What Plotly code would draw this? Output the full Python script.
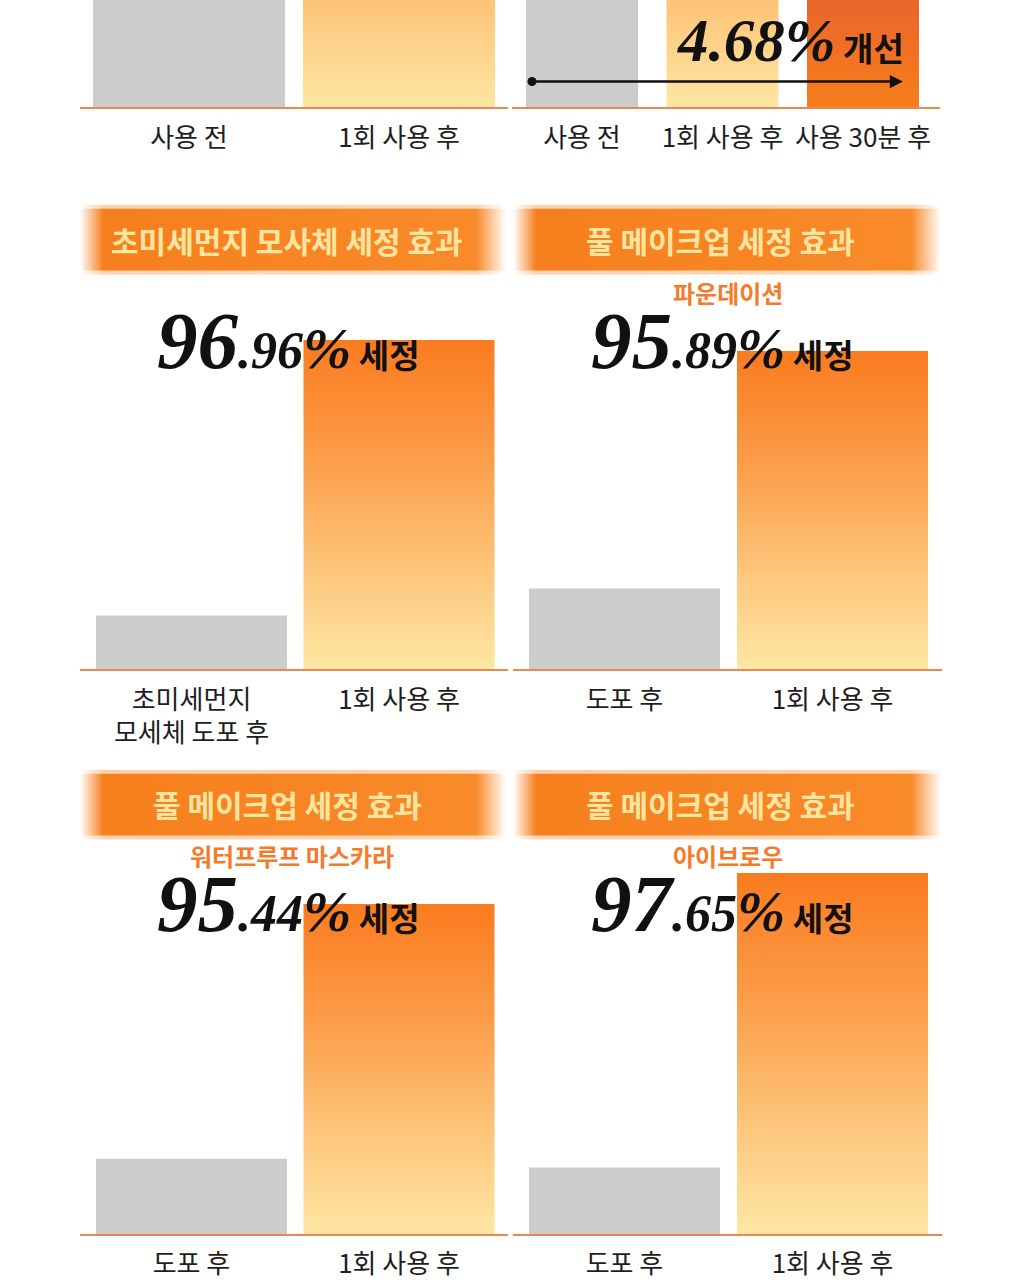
import plotly.graph_objects as go

W, H = 1020, 1280

# ---------------- data ----------------
before_after_labels = ["사용 전", "1회 사용 후"]
before_after_values = [78, 83]            # bars run past the top edge of the crop
improve_labels = ["사용 전", "1회 사용 후", "사용 30분 후"]
improve_values = [78, 83, 88]
improve_pct = "4.68%"
improve_word = "개선"

dust_labels = ["초미세먼지<br>모세체 도포 후", "1회 사용 후"]
dust_values = [13.5, 82.8]
dust_pct = ("96", ".96")

foundation_labels = ["도포 후", "1회 사용 후"]
foundation_values = [20.3, 80.0]
foundation_pct = ("95", ".89")

mascara_labels = ["도포 후", "1회 사용 후"]
mascara_values = [19.0, 83.0]
mascara_pct = ("95", ".44")

brow_labels = ["도포 후", "1회 사용 후"]
brow_values = [16.8, 90.8]
brow_pct = ("97", ".65")

banner_titles = ["초미세먼지 모사체 세정 효과", "풀 메이크업 세정 효과",
                 "풀 메이크업 세정 효과", "풀 메이크업 세정 효과"]
sub_titles = ["파운데이션", "워터프루프 마스카라", "아이브로우"]
clean_word = "세정"

# ---------------- styles ----------------
KR = "Noto Sans CJK KR"
GRAY = "#cccccc"
AXIS_LINE = "#e8894f"
GRAD = {
    "light": [[0, "#fee7a4"], [0.3, "#fdc67b"], [0.65, "#fc9c48"], [1, "#fa7b1f"]],
    "dark": [[0, "#f77e1c"], [0.33, "#ea632c"], [1, "#e35a2e"]],
}
PX_PER_UNIT = 4

panels = [
    dict(labels=before_after_labels, values=before_after_values, styles=["gray", "light"],
         left=80, right=508, base=108, top=0, centers=(189, 399), bw=192),
    dict(labels=improve_labels, values=improve_values, styles=["gray", "light", "dark"],
         left=512, right=940, base=108, top=0, centers=(582, 722.5), bw=112),
    dict(labels=dust_labels, values=dust_values, styles=["gray", "light"],
         left=80, right=508, base=673, top=273, centers=(191.5, 399), bw=191),
    dict(labels=foundation_labels, values=foundation_values, styles=["gray", "light"],
         left=513, right=942, base=673, top=273, centers=(624.5, 832.5), bw=191),
    dict(labels=mascara_labels, values=mascara_values, styles=["gray", "light"],
         left=80, right=508, base=1241, top=841, centers=(191.5, 399), bw=191),
    dict(labels=brow_labels, values=brow_values, styles=["gray", "light"],
         left=513, right=942, base=1241, top=841, centers=(624.5, 832.5), bw=191),
]

fig = go.Figure()
layout_axes = {}

for k, p in enumerate(panels):
    n = "" if k == 0 else str(k + 1)
    xa, ya = "x" + n, "y" + n
    c0, c1 = p["centers"]
    sp = c1 - c0
    w = p["bw"] / sp
    for i, (v, s) in enumerate(zip(p["values"], p["styles"])):
        if s == "gray":
            fig.add_trace(go.Bar(x=[i], y=[v], width=w, xaxis=xa, yaxis=ya,
                                 marker=dict(color=GRAY, line=dict(width=0)),
                                 hoverinfo="skip", showlegend=False))
        else:
            fig.add_trace(go.Scatter(
                x=[i - w / 2, i - w / 2, i + w / 2, i + w / 2, i - w / 2],
                y=[0, v, v, 0, 0], fill="toself", mode="lines",
                line=dict(width=0, color="rgba(0,0,0,0)"),
                fillgradient=dict(type="vertical", colorscale=GRAD[s]),
                xaxis=xa, yaxis=ya, hoverinfo="skip", showlegend=False))
    layout_axes["xaxis" + n] = dict(
        domain=[p["left"] / W, p["right"] / W],
        range=[(p["left"] - c0) / sp, (p["right"] - c0) / sp],
        tickmode="array", tickvals=list(range(len(p["labels"]))), ticktext=p["labels"],
        showline=True, linecolor=AXIS_LINE, linewidth=2, showgrid=False, zeroline=False,
        ticks="", ticklabelstandoff=6, tickfont=dict(family=KR, size=26, color="#1e1e1e"),
        anchor=ya, fixedrange=True)
    layout_axes["yaxis" + n] = dict(
        domain=[1 - p["base"] / H, 1 - p["top"] / H],
        range=[0, (p["base"] - p["top"]) / PX_PER_UNIT],
        visible=False, anchor=xa, fixedrange=True)

# decoration layer in pixel space
layout_axes["xaxis7"] = dict(domain=[0, 1], range=[0, W], visible=False, anchor="y7", fixedrange=True)
layout_axes["yaxis7"] = dict(domain=[0, 1], range=[H, 0], visible=False, anchor="x7", fixedrange=True)

BANNER_SCALE = [[0, "#ffffff"], [0.055, "#f67f1d"], [0.93, "#f98a2a"], [1, "#ffffff"]]


def banner(x0, x1, y0, y1):
    for pad, op in ((4, 0.35), (0, 1.0)):
        fig.add_trace(go.Scatter(
            x=[x0, x0, x1, x1, x0], y=[y0 - pad, y1 + pad, y1 + pad, y0 - pad, y0 - pad],
            fill="toself", mode="lines", line=dict(width=0, color="rgba(0,0,0,0)"),
            fillgradient=dict(type="horizontal", colorscale=BANNER_SCALE),
            opacity=op, xaxis="x7", yaxis="y7", hoverinfo="skip", showlegend=False))


banner_boxes = [(80, 506, 210, 272), (513, 941, 210, 272), (80, 506, 778, 840), (513, 941, 778, 840)]
for b in banner_boxes:
    banner(*b)

annotations = []
banner_centers = [(287, 241), (720, 241), (287, 808), (720, 808)]
for t, (cx, cy) in zip(banner_titles, banner_centers):
    annotations.append(dict(x=cx, y=cy, xref="x7", yref="y7", text="<b>" + t + "</b>",
                            showarrow=False, font=dict(family=KR, size=30, color="#fde5a0")))

sub_centers = [(728, 294), (292, 860), (728, 860)]
for t, (cx, cy) in zip(sub_titles, sub_centers):
    annotations.append(dict(x=cx, y=cy, xref="x7", yref="y7", text="<b>" + t + "</b>",
                            showarrow=False, font=dict(family=KR, size=24, color="#f47b2b")))


def big_text(parts, word):
    a, b = parts
    return ("<i><b><span style=\"font-size:81px\">" + a + "</span>"
            "<span style=\"font-size:52px\">" + b + "</span>"
            "<span style=\"font-size:58px\">%</span></b></i>"
            "<span style=\"font-family:'Noto Sans CJK KR';font-size:33px\"><b> " + word + "</b></span>")


big_items = [(dust_pct, 288, 373), (foundation_pct, 722, 373), (mascara_pct, 288, 939), (brow_pct, 722, 939)]
for parts, cx, by in big_items:
    annotations.append(dict(x=cx, y=by + 17, xref="x7", yref="y7", yanchor="bottom",
                            text=big_text(parts, clean_word), showarrow=False,
                            font=dict(family="Liberation Serif", size=52, color="#111111")))

annotations.append(dict(
    x=790, y=63 + 13, xref="x7", yref="y7", yanchor="bottom", showarrow=False,
    text=("<i><b><span style=\"font-size:61px\">" + improve_pct + "</span></b></i>"
          "<span style=\"font-family:'Noto Sans CJK KR';font-size:33px\"><b> " + improve_word + "</b></span>"),
    font=dict(family="Liberation Serif", size=52, color="#111111")))

# arrow across the improvement panel
c0, c1 = panels[1]["centers"]
sp = c1 - c0
arrow_y = (108 - 82) / PX_PER_UNIT
annotations.append(dict(x=(903 - c0) / sp, y=arrow_y, ax=(532 - c0) / sp, ay=arrow_y,
                        xref="x2", yref="y2", axref="x2", ayref="y2", text="",
                        showarrow=True, arrowhead=2, arrowsize=1.1, arrowwidth=2.4,
                        arrowcolor="#111111", standoff=0, startstandoff=0))
fig.add_trace(go.Scatter(x=[(532 - c0) / sp], y=[arrow_y], mode="markers",
                         marker=dict(size=9, color="#111111"), xaxis="x2", yaxis="y2",
                         hoverinfo="skip", showlegend=False, cliponaxis=False))

fig.update_layout(
    width=W, height=H, margin=dict(l=0, r=0, t=0, b=0),
    paper_bgcolor="white", plot_bgcolor="rgba(0,0,0,0)",
    barmode="overlay", showlegend=False, annotations=annotations,
    **layout_axes)

fig.write_html("out.html", config={"displayModeBar": False})
